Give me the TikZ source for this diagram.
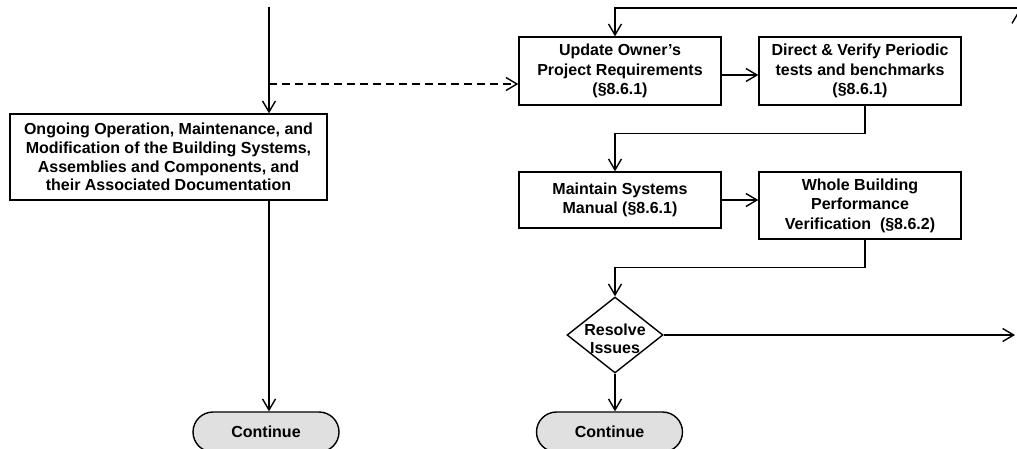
\documentclass[tikz,border=0pt]{standalone}
\usepackage{fontspec}
\setmainfont{Liberation Sans}
\usetikzlibrary{arrows.meta,shapes.geometric,calc}
\begin{document}
\begin{tikzpicture}[x=1pt,y=-1pt,
  line width=1.4pt,
  arr/.style={-{Straight Barb[length=11pt,width=13pt,line width=1.4pt]}},
  box/.style={draw,rectangle,inner sep=0pt,align=center,font=\bfseries\fontsize{16}{19.5}\selectfont},
  term/.style={draw,rectangle,rounded corners=20pt,fill=black!12,minimum width=146pt,minimum height=40pt,inner sep=0pt,font=\bfseries\fontsize{16}{19}\selectfont},
  dec/.style={draw,diamond,minimum width=96pt,minimum height=76pt,inner sep=0pt}
]
\useasboundingbox (0,0) rectangle (1017,448);

\node[box,minimum width=317pt,minimum height=86pt,font=\bfseries\fontsize{16}{18.6}\selectfont] (ops) at (168.5,157)
  {Ongoing Operation, Maintenance, and\\Modification of the Building Systems,\\Assemblies and Components, and\\their Associated Documentation};
\node[box,minimum width=202pt,minimum height=68pt] (upd) at (620,71)
  {Update Owner’s\\Project Requirements\\(§8.6.1)};
\node[box,minimum width=202pt,minimum height=68pt] (dir) at (860,71)
  {Direct \& Verify Periodic\\tests and benchmarks\\(§8.6.1)};
\node[box,minimum width=202pt,minimum height=56pt] (mnt) at (620,200)
  {Maintain Systems\\Manual (§8.6.1)};
\node[box,minimum width=202pt,minimum height=67pt] (whl) at (860,205.5)
  {Whole Building\\Performance\\Verification~~(§8.6.2)};
\node[dec,label={[font=\bfseries\fontsize{16}{18}\selectfont,align=center,yshift=-4pt]center:Resolve\\Issues}] (res) at (615,335) {};
\node[term] (c1) at (266,432) {Continue};
\node[term] (c2) at (609.5,432) {Continue};

\coordinate (top) at (269,7);
\coordinate (j) at (269,84);
\coordinate (tr) at (1030,8);
\coordinate (out) at (1015,335);
\coordinate (upa) at (1018.5,60);
\coordinate (upb) at (1018.5,11);

\draw[arr] (top) -- (top |- ops.north);
\draw[arr,dash pattern=on 8pt off 5pt] (j) -- (j -| upd.west);
\draw[arr] (top |- ops.south) -- (top |- c1.north);
\draw[arr] (tr) -| ([xshift=-5pt]upd.north);
\draw[arr] (upa) -- (upb);
\draw[arr] ([yshift=-4pt]upd.east) -- ([yshift=-4pt]upd.east -| dir.west);
\draw[arr] ([xshift=5pt]dir.south) -- ++(0,28) -| ([xshift=-5pt]mnt.north);
\draw[arr] (mnt.east) -- (mnt.east -| whl.west);
\draw[arr] ([xshift=5pt]whl.south) -- ++(0,28) -| (res.north);
\draw[arr] (res.east) -- (out);
\draw[arr] (res.south) -- (res.south |- c2.north);
\end{tikzpicture}
\end{document}
